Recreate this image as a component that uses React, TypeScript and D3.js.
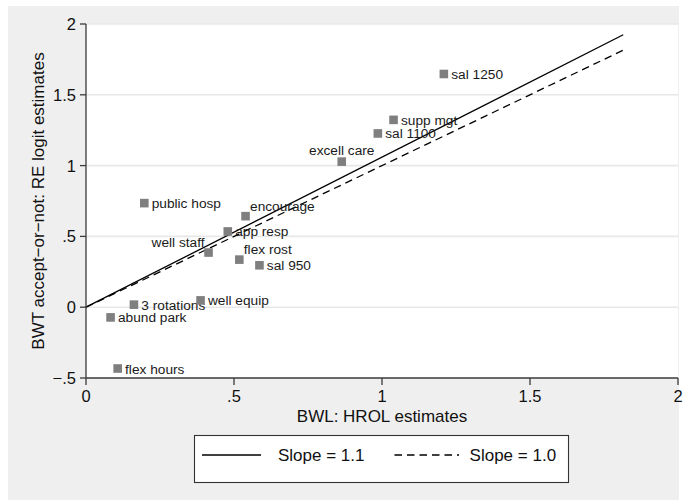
import React from "react";
import * as d3 from "d3";

// Attribute estimates: HROL (x) versus RE logit (y)
const attributes = [
  "sal 1250", "supp mgt", "sal 1100", "excell care", "public hosp", "encourage", "app resp",
  "well staff", "flex rost", "sal 950", "3 rotations", "well equip", "abund park", "flex hours",
];
const hrolEstimates = [1.209, 1.039, 0.986, 0.864, 0.197, 0.539, 0.479, 0.414, 0.518, 0.586, 0.162, 0.387, 0.083, 0.107];
const logitEstimates = [1.647, 1.323, 1.227, 1.028, 0.735, 0.643, 0.535, 0.386, 0.336, 0.296, 0.018, 0.048, -0.072, -0.433];

// Reference lines through the origin
const lineSlopes = [1.06, 1.0];
const lineEndX = 1.815;

const xTicks = [0, 0.5, 1, 1.5, 2];
const yTicks = [-0.5, 0, 0.5, 1, 1.5, 2];
const xTickLabels = ["0", ".5", "1", "1.5", "2"];
const yTickLabels = ["\u2212.5", "0", ".5", "1", "1.5", "2"];

const xTitle = "BWL: HROL estimates";
const yTitle = "BWT accept\u2212or\u2212not: RE logit estimates";

// Clock position of each marker label (default 3 o'clock)
const labelClock: Record<string, number> = {
  "excell care": 12,
  "encourage": 1,
  "flex rost": 1,
  "well staff": 11,
};

const FONT = "'Liberation Sans', Arial, Helvetica, sans-serif";

export default function App() {
  const W = 685;
  const H = 500;
  const left = 86, right = 678, top = 24, bottom = 378;

  const x = d3.scaleLinear().domain([0, 2]).range([left, right]);
  const y = d3.scaleLinear().domain([-0.5, 2]).range([bottom, top]);

  const line = d3.line<[number, number]>().x((d) => x(d[0])).y((d) => y(d[1]));
  const fmt = d3.format(".1f");

  const markerSize = 8.6;

  const labelPos = (name: string, px: number, py: number) => {
    const clock = labelClock[name] ?? 3;
    if (clock === 12) return { x: px, y: py - 11.6, anchor: "middle" };
    if (clock === 1) return { x: px + 4.5, y: py - 10, anchor: "start" };
    if (clock === 11) return { x: px - 4, y: py - 10.5, anchor: "end" };
    return { x: px + 7.4, y: py + 0.5, anchor: "start" };
  };

  return (
    <svg
      width={W}
      height={H}
      style={{ position: "absolute", left: 0, top: 0, fontFamily: FONT }}
    >
      <rect x={8} y={6} width={671} height={494} fill="#efefef" />
      <rect x={left} y={top} width={right - left} height={bottom - top} fill="#ffffff" />

      {/* horizontal grid */}
      {yTicks.filter((t) => t > -0.5).map((t) => (
        <line key={"g" + t} x1={left} x2={right} y1={y(t)} y2={y(t)} stroke="#e8e8e8" strokeWidth={1.6} />
      ))}

      {/* reference lines */}
      <path
        d={line([[0, 0], [lineEndX, lineSlopes[0] * lineEndX]]) || ""}
        fill="none"
        stroke="#000"
        strokeWidth={1.3}
      />
      <path
        d={line([[0, 0], [lineEndX, lineSlopes[1] * lineEndX]]) || ""}
        fill="none"
        stroke="#000"
        strokeWidth={1.3}
        strokeDasharray="7.5 5"
      />

      {/* markers and labels */}
      {attributes.map((name, i) => {
        const px = x(hrolEstimates[i]);
        const py = y(logitEstimates[i]);
        const lp = labelPos(name, px, py);
        return (
          <g key={name}>
            <rect
              x={px - markerSize / 2}
              y={py - markerSize / 2}
              width={markerSize}
              height={markerSize}
              fill="#7f7f7f"
            />
            <text
              x={lp.x}
              y={lp.y}
              textAnchor={lp.anchor as any}
              dominantBaseline="central"
              fontSize={13.7}
              fill="#1a1a1a"
            >
              {name}
            </text>
          </g>
        );
      })}

      {/* axes */}
      <line x1={left} x2={left} y1={top} y2={bottom} stroke="#3a3a3a" strokeWidth={1.3} />
      <line x1={left} x2={right} y1={bottom} y2={bottom} stroke="#3a3a3a" strokeWidth={1.3} />
      {yTicks.map((t, i) => (
        <g key={"yt" + t}>
          <line x1={left - 6} x2={left} y1={y(t)} y2={y(t)} stroke="#3a3a3a" strokeWidth={1.3} />
          <text x={left - 10} y={y(t)} textAnchor="end" dominantBaseline="central" fontSize={16.5} fill="#111">
            {yTickLabels[i]}
          </text>
        </g>
      ))}
      {xTicks.map((t, i) => (
        <g key={"xt" + t}>
          <line x1={x(t)} x2={x(t)} y1={bottom} y2={bottom + 7} stroke="#3a3a3a" strokeWidth={1.3} />
          <text x={x(t)} y={401.5} textAnchor="middle" fontSize={16.5} fill="#111">
            {xTickLabels[i]}
          </text>
        </g>
      ))}

      {/* axis titles */}
      <text x={(left + right) / 2} y={421.5} textAnchor="middle" fontSize={17} fill="#111">
        {xTitle}
      </text>
      <text
        transform={`translate(43.5, ${(top + bottom) / 2}) rotate(-90)`}
        textAnchor="middle"
        fontSize={17}
        fill="#111"
      >
        {yTitle}
      </text>

      {/* legend */}
      <rect x={194.5} y={435.5} width={374} height={47} fill="#fff" stroke="#333" strokeWidth={1.1} />
      <line x1={202} x2={261} y1={455} y2={455} stroke="#000" strokeWidth={1.3} />
      <text x={278} y={455} dominantBaseline="central" fontSize={17} fill="#111">
        {`Slope = ${fmt(lineSlopes[0])}`}
      </text>
      <line x1={394.5} x2={459} y1={455} y2={455} stroke="#000" strokeWidth={1.3} strokeDasharray="7.5 5" />
      <text x={469.6} y={455} dominantBaseline="central" fontSize={17} fill="#111">
        {`Slope = ${fmt(lineSlopes[1])}`}
      </text>
    </svg>
  );
}
